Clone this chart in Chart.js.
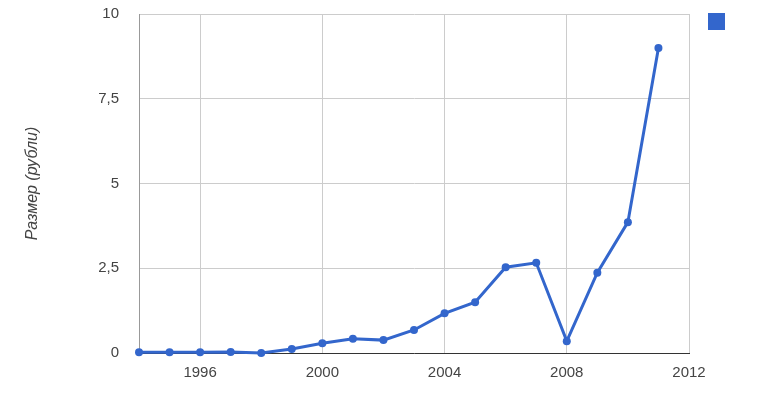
<!DOCTYPE html>
<html>
<head>
<meta charset="utf-8">
<script src="https://cdn.jsdelivr.net/npm/chart.js"></script>
<style>
  html, body { margin: 0; padding: 0; background: #fff; }
  #wrap { width: 780px; height: 405px; }
</style>
</head>
<body>
<div id="wrap"><canvas id="chart"></canvas></div>
<script>
// Data
const years = [1994, 1995, 1996, 1997, 1998, 1999, 2000, 2001, 2002, 2003,
               2004, 2005, 2006, 2007, 2008, 2009, 2010, 2011];
const sizes = [0.02, 0.02, 0.02, 0.03, 0.0, 0.12, 0.29, 0.42, 0.38, 0.68,
               1.17, 1.5, 2.53, 2.66, 0.35, 2.37, 3.86, 9.0];
const xTicks = [1996, 2000, 2004, 2008, 2012];
const yTicks = [0, 2.5, 5, 7.5, 10];
const yTitle = 'Размер (рубли)';

const blue = '#3366cc';

new Chart(document.getElementById('chart').getContext('2d'), {
  type: 'line',
  data: {
    datasets: [{
      label: '',
      data: years.map((y, i) => ({ x: y, y: sizes[i] })),
      borderColor: blue,
      backgroundColor: blue,
      borderWidth: 3,
      pointRadius: 4,
      pointBackgroundColor: blue,
      pointBorderWidth: 0,
      tension: 0,
      clip: false
    }]
  },
  options: {
    responsive: true,
    maintainAspectRatio: false,
    animation: false,
    layout: { padding: { top: 0, right: 40.5, bottom: 12, left: 0 } },
    plugins: {
      tooltip: { enabled: false },
      legend: {
        position: 'right',
        align: 'start',
        // box is stroked with the 3px line width, so 14 + 3 = 17px on screen
        labels: { boxWidth: 14, boxHeight: 14, padding: 14.5, font: { size: 12 } }
      }
    },
    scales: {
      x: {
        type: 'linear',
        min: 1994,
        max: 2012,
        afterBuildTicks: s => { s.ticks = xTicks.map(v => ({ value: v })); },
        grid: { color: '#cccccc', drawTicks: false },
        border: { color: '#333333', width: 1 },
        ticks: {
          padding: 11,
          color: '#444444',
          maxRotation: 0,
          font: { family: 'Liberation Sans, Arial', size: 15 },
          callback: v => String(v)
        }
      },
      y: {
        min: 0,
        max: 10,
        afterBuildTicks: s => { s.ticks = yTicks.map(v => ({ value: v })); },
        afterFit: s => {
          s.width = 139;
          s.paddingTop = 14;
          s.paddingBottom = 0;
        },
        grid: { color: '#cccccc', drawTicks: false },
        border: { color: '#999999', width: 1 },
        ticks: {
          padding: 20,
          color: '#444444',
          font: { family: 'Liberation Sans, Arial', size: 15 },
          callback: v => String(v).replace('.', ',')
        },
        title: {
          display: true,
          text: yTitle,
          color: '#444444',
          padding: { top: 23, bottom: 0 },
          font: { family: 'Liberation Sans, Arial', size: 16, style: 'italic' }
        }
      },
      spacer: {
        position: 'right',
        display: true,
        afterFit: s => { s.width = 6; },
        grid: { display: false },
        border: { display: false },
        ticks: { display: false }
      }
    }
  }
});
</script>
</body>
</html>
